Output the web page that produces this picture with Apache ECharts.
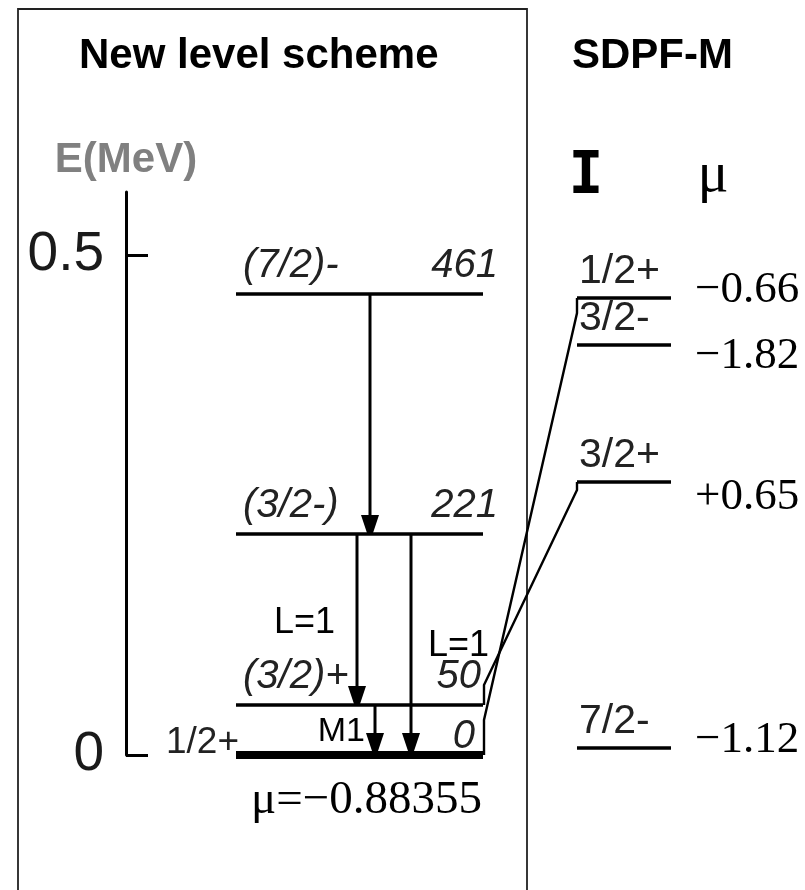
<!DOCTYPE html>
<html>
<head>
<meta charset="utf-8">
<script src="https://cdn.jsdelivr.net/npm/echarts@6/dist/echarts.min.js"></script>
<style>
  html, body { margin: 0; padding: 0; background: #ffffff; }
  #chart { width: 805px; height: 890px; }
</style>
</head>
<body>
<div id="chart"></div>
<script>
// ---- Experimental level scheme (energies in MeV) ----
const levelEnergies = [0, 0.050, 0.221, 0.461];
const levelEnergyLabels = ['0', '50', '221', '461'];
const levelSpins = ['1/2+', '(3/2)+', '(3/2-)', '(7/2)-'];

// Gamma transitions between levels (indices into the level arrays)
const transitionFrom = [3, 2, 2, 1];
const transitionTo = [2, 1, 0, 0];
const transitionLabels = ['', 'L=1', 'L=1', 'M1'];

// ---- SDPF-M shell-model levels ----
const theorySpins = ['1/2+', '3/2-', '3/2+', '7/2-'];
const theoryEnergies = [0.457, 0.410, 0.273, 0.007];
const theoryMoments = ['\u22120.66', '\u22121.82', '+0.65', '\u22121.12'];

// Experimental level -> shell-model level correspondence
const linkFrom = [0, 1];
const linkTo = [0, 2];

const groundMoment = '\u03bc=\u22120.88355';
const energyTicks = [0, 0.5];

// ---- Layout (pixels) ----
const W = 805, H = 890;
const AXIS_X = 126, ZERO_Y = 755, TOP_Y = 192;
const PX_PER_MEV = 1000;
const E_MAX = (ZERO_Y - TOP_Y) / PX_PER_MEV;
const EXP_X0 = 236, EXP_X1 = 483;
const TH_X0 = 577, TH_X1 = 671;
const MOMENT_X = 695;
const ENERGY_LABEL_RIGHT = [475, 481, 498, 498];
const TRANSITION_X = [370, 357, 411, 375];
const TRANSITION_LABEL = [null, { side: 'left', gap: 22 }, { side: 'right', gap: 17 }, { side: 'left', gap: 10 }];
const MOMENT_DY = [-8, 11, 15, -8];
const LINK_STUB = [[35, 15], [20, 8]];

const SANS = '"Liberation Sans", Arial, sans-serif';
const SERIF = '"Liberation Serif", "Times New Roman", serif';

const chart = echarts.init(document.getElementById('chart'), null, { renderer: 'canvas' });

function text(x, y, str, font, align, vAlign, fill) {
  return {
    type: 'text', x: x, y: y,
    style: { text: str, font: font, align: align, verticalAlign: vAlign, fill: fill || '#111' }
  };
}

const option = {
  animation: false,
  backgroundColor: '#ffffff',
  grid: {
    left: AXIS_X, right: 0, top: TOP_Y, bottom: H - ZERO_Y,
    containLabel: false, outerBoundsMode: 'none'
  },
  xAxis: {
    type: 'value', min: AXIS_X, max: W, show: false
  },
  yAxis: {
    type: 'value', min: 0, max: E_MAX,
    name: 'E(MeV)', nameLocation: 'end', nameGap: 32,
    nameTextStyle: {
      fontFamily: SANS, fontWeight: 'bold', fontSize: 42, color: '#808080',
      align: 'center', verticalAlign: 'middle'
    },
    axisLine: { show: true, lineStyle: { color: '#000', width: 3 } },
    axisTick: {
      show: true, inside: true, length: 22, customValues: energyTicks,
      lineStyle: { color: '#000', width: 3 }
    },
    axisLabel: {
      customValues: energyTicks, formatter: v => String(v),
      fontFamily: SANS, fontSize: 55, color: '#1a1a1a', margin: 22
    },
    splitLine: { show: false }
  },
  graphic: [
    {
      type: 'rect', z: -10,
      shape: { x: 18, y: 9, width: 509, height: H + 20 },
      style: { fill: 'none', stroke: '#222', lineWidth: 1.8 }
    },
    {
      type: 'text', left: 79, top: 35,
      style: { text: 'New level scheme', font: 'bold 42px ' + SANS, fill: '#000' }
    },
    {
      type: 'text', left: 572, top: 35,
      style: { text: 'SDPF-M', font: 'bold 42px ' + SANS, fill: '#000' }
    },
    {
      type: 'text', x: 586, y: 178,
      style: { text: 'I', font: 'bold 58px "DejaVu Sans Mono", monospace', fill: '#000', align: 'center', verticalAlign: 'middle' }
    },
    {
      type: 'text', x: 713, y: 176,
      style: { text: '\u03bc', font: '58px ' + SERIF, fill: '#000', align: 'center', verticalAlign: 'middle' }
    }
  ],
  series: [
    // Experimental levels
    {
      type: 'custom', coordinateSystem: 'cartesian2d', clip: false,
      data: levelEnergies.map((e, i) => [EXP_X0, e, i]),
      encode: { x: 0, y: 1 },
      renderItem: function (params, api) {
        const e = api.value(1), i = api.value(2);
        const p0 = api.coord([EXP_X0, e]), p1 = api.coord([EXP_X1, e]);
        const y = p0[1];
        const ground = e === 0;
        const children = [{
          type: 'line',
          shape: { x1: p0[0], y1: y, x2: p1[0], y2: y },
          style: { stroke: '#000', lineWidth: ground ? 8 : 3.5 }
        }];
        const right = api.coord([ENERGY_LABEL_RIGHT[i], e])[0];
        if (ground) {
          children.push(text(p0[0] - 70, y - 12, levelSpins[i], '37px ' + SANS, 'left', 'middle', '#222'));
          children.push(text(right, y - 18, levelEnergyLabels[i], 'italic 40px ' + SANS, 'right', 'middle', '#222'));
          children.push(text((p0[0] + p1[0]) / 2 + 7, y + 46, groundMoment, '47px ' + SERIF, 'center', 'middle', '#000'));
        } else {
          children.push(text(p0[0] + 7, y - 8, levelSpins[i], 'italic 40px ' + SANS, 'left', 'bottom', '#222'));
          children.push(text(right, y - 8, levelEnergyLabels[i], 'italic 40px ' + SANS, 'right', 'bottom', '#222'));
        }
        return { type: 'group', children: children };
      }
    },
    // Gamma transitions
    {
      type: 'custom', coordinateSystem: 'cartesian2d', clip: false,
      data: transitionFrom.map((f, k) => [levelEnergies[f], levelEnergies[transitionTo[k]], k]),
      encode: { y: [0, 1] },
      renderItem: function (params, api) {
        const eFrom = api.value(0), eTo = api.value(1), k = api.value(2);
        const x = api.coord([TRANSITION_X[k], eFrom])[0];
        const yFrom = api.coord([TRANSITION_X[k], eFrom])[1];
        let yTo = api.coord([TRANSITION_X[k], eTo])[1];
        yTo -= eTo === 0 ? 4 : 1;
        const aw = 9, ah = 18;
        const children = [
          {
            type: 'line',
            shape: { x1: x, y1: yFrom, x2: x, y2: yTo - ah + 2 },
            style: { stroke: '#000', lineWidth: 3 }
          },
          {
            type: 'polygon',
            shape: { points: [[x - aw, yTo - ah], [x + aw, yTo - ah], [x + 3, yTo], [x - 3, yTo]] },
            style: { fill: '#000' }
          }
        ];
        const lab = TRANSITION_LABEL[k];
        if (lab && transitionLabels[k]) {
          const ym = (yFrom + yTo) / 2 + 4;
          const lx = lab.side === 'left' ? x - lab.gap : x + lab.gap;
          const font = (transitionLabels[k] === 'M1' ? '34px ' : '36px ') + SANS;
          children.push(text(lx, ym, transitionLabels[k], font, lab.side === 'left' ? 'right' : 'left', 'middle', '#000'));
        }
        return { type: 'group', children: children };
      }
    },
    // Shell-model levels
    {
      type: 'custom', coordinateSystem: 'cartesian2d', clip: false,
      data: theoryEnergies.map((e, i) => [TH_X0, e, i]),
      encode: { x: 0, y: 1 },
      renderItem: function (params, api) {
        const e = api.value(1), i = api.value(2);
        const p0 = api.coord([TH_X0, e]), p1 = api.coord([TH_X1, e]);
        const y = p0[1];
        return {
          type: 'group',
          children: [
            {
              type: 'line',
              shape: { x1: p0[0], y1: y, x2: p1[0], y2: y },
              style: { stroke: '#000', lineWidth: 3.5 }
            },
            text(p0[0] + 2, y - 6, theorySpins[i], '41px ' + SANS, 'left', 'bottom', '#222'),
            text(api.coord([MOMENT_X, e])[0], y + MOMENT_DY[i], theoryMoments[i], '45px ' + SERIF, 'left', 'middle', '#000')
          ]
        };
      }
    },
    // Links between experimental and shell-model levels
    {
      type: 'custom', coordinateSystem: 'cartesian2d', clip: false,
      data: linkFrom.map((f, k) => [levelEnergies[f], theoryEnergies[linkTo[k]], k]),
      encode: { y: [0, 1] },
      renderItem: function (params, api) {
        const eLow = api.value(0), eHigh = api.value(1), k = api.value(2);
        const xa = api.coord([EXP_X1, eLow])[0] + 1;
        const xb = api.coord([TH_X0, eHigh])[0];
        const yLow = api.coord([EXP_X1, eLow])[1];
        const yHigh = api.coord([TH_X0, eHigh])[1];
        const s = LINK_STUB[k];
        return {
          type: 'polyline',
          shape: { points: [[xa, yLow], [xa, yLow - s[0]], [xb, yHigh + s[1]], [xb, yHigh]] },
          style: { stroke: '#000', lineWidth: 2.4, fill: 'none' }
        };
      }
    }
  ]
};

chart.setOption(option);
</script>
</body>
</html>
